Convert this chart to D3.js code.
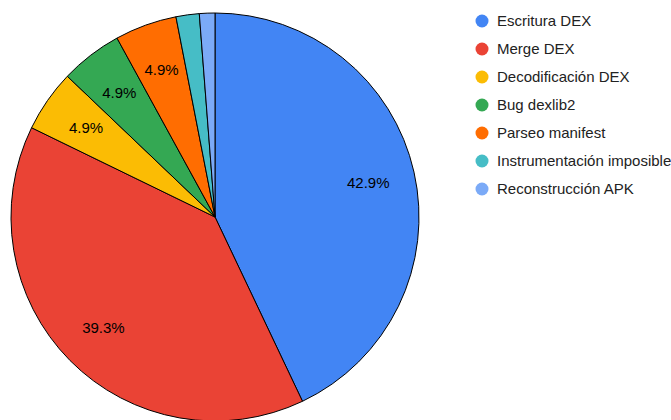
<!DOCTYPE html>
<html><head><meta charset="utf-8">
<script src="https://cdn.jsdelivr.net/npm/d3@7"></script>
<style>body{margin:0;background:#fff}svg{display:block;font-family:Arial,"Liberation Sans",sans-serif}</style>
</head><body>
<svg id="c" width="671" height="420"></svg>
<script>
const categories = ["Escritura DEX","Merge DEX","Decodificación DEX","Bug dexlib2","Parseo manifest","Instrumentación imposible","Reconstrucción APK"];
const values = [70, 64, 8, 8, 8, 3, 2];
const colors = ["#4285F4","#EA4335","#FBBC04","#34A853","#FF6D01","#46BDC6","#7BAAF7"];

const svg = d3.select("#c");
const cx = 215, cy = 217, R = 204;
const total = d3.sum(values);
const data = categories.map((c,i)=>({name:c, value:values[i], color:colors[i]}));
const pie = d3.pie().value(d=>d.value).sort(null);
const arc = d3.arc().innerRadius(0).outerRadius(R);
const labelArc = d3.arc().innerRadius(R*0.77).outerRadius(R*0.77);
const g = svg.append("g").attr("transform",`translate(${cx},${cy})`);
const arcs = pie(data);
g.selectAll("path").data(arcs).join("path")
  .attr("d",arc).attr("fill",d=>d.data.color)
  .attr("stroke","#000").attr("stroke-width",1);
g.selectAll("text").data(arcs.filter(d=>d.data.value/total>0.03)).join("text")
  .attr("transform",d=>`translate(${labelArc.centroid(d)})`)
  .attr("text-anchor","middle").attr("dy","0.35em")
  .attr("font-size",15).attr("fill","#000")
  .text(d=>(d.data.value/total*100).toFixed(1)+"%");

const leg = svg.append("g");
const row = leg.selectAll("g").data(data).join("g")
  .attr("transform",(d,i)=>`translate(482,${21+i*28})`);
row.append("circle").attr("r",6.5).attr("fill",d=>d.color);
row.append("text").attr("x",15).attr("dy","0.35em").attr("font-size",15).attr("fill","#222").text(d=>d.name);
</script>
</body></html>
